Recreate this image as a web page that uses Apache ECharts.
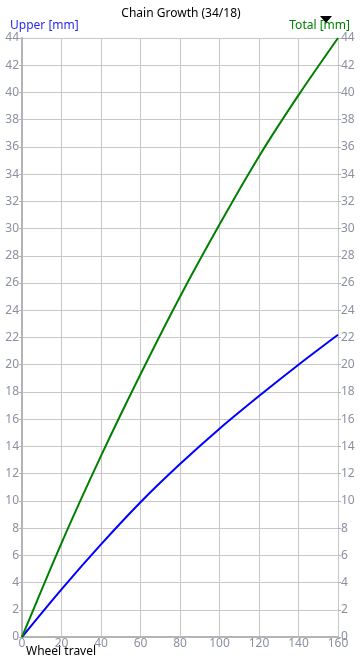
<!DOCTYPE html>
<html>
<head>
<meta charset="utf-8">
<script src="https://cdn.jsdelivr.net/npm/echarts@6/dist/echarts.min.js"></script>
<style>
html,body{margin:0;padding:0;background:#fff;}
#c{width:362px;height:666px;}
</style>
</head>
<body>
<div id="c"></div>
<script>
const wheelTravel = [0, 20, 40, 60, 80, 100, 120, 140, 160];
const upperGrowth = [0, 3.5, 6.8, 9.9, 12.7, 15.3, 17.7, 20.0, 22.2];
const totalGrowth = [0, 6.9, 13.3, 19.3, 25.0, 30.3, 35.3, 39.8, 44.0];
const titleText = 'Chain Growth (34/18)';
const leftAxisName = 'Upper [mm]';
const rightAxisName = 'Total [mm]';
const xAxisName = 'Wheel travel';

const chart = echarts.init(document.getElementById('c'), null, {renderer: 'canvas'});
const font = 'Noto Sans';
const labelColor = '#8a90a2';
const yAxisCommon = {
  type: 'value', min: 0, max: 44, interval: 2,
  axisLine: {show: true, lineStyle: {color: '#b4b4b4', width: 2}},
  axisTick: {show: true, length: 3, lineStyle: {color: '#b4b4b4'}},
  axisLabel: {color: labelColor, fontSize: 12, fontFamily: font, margin: 3},
  splitLine: {show: true, lineStyle: {color: '#c8c8c8', width: 1}}
};
chart.setOption({
  animation: false,
  backgroundColor: '#ffffff',
  title: {
    text: titleText, left: 'center', top: 3,
    textStyle: {fontSize: 12, fontWeight: 'normal', color: '#000', fontFamily: font}
  },
  grid: {left: 22, right: 24, top: 38, bottom: 29, containLabel: false},
  xAxis: {
    type: 'value', min: 0, max: 160, interval: 20,
    axisLine: {show: true, lineStyle: {color: '#b4b4b4', width: 2}},
    axisTick: {show: false},
    axisLabel: {color: labelColor, fontSize: 12, fontFamily: font, margin: 1},
    splitLine: {show: true, lineStyle: {color: '#c8c8c8', width: 1}}
  },
  yAxis: [
    Object.assign({}, yAxisCommon, {position: 'left'}),
    Object.assign({}, yAxisCommon, {position: 'right', splitLine: {show: false},
      axisLine: {show: true, lineStyle: {color: '#c8c8c8', width: 1}}})
  ],
  graphic: [
    {type: 'text', left: 10, top: 20, style: {text: leftAxisName, fill: '#2a2aee', fontSize: 12, fontFamily: font}},
    {type: 'text', right: 12, top: 20, style: {text: rightAxisName, fill: '#008000', fontSize: 12, fontFamily: font}},
    {type: 'text', left: 26, top: 646, style: {text: xAxisName, fill: '#000', fontSize: 12, fontFamily: font}},
    {type: 'polygon', shape: {points: [[320, 16], [332, 16], [326, 23]]}, style: {fill: '#000'}}
  ],
  series: [
    {
      name: 'Upper', type: 'line', yAxisIndex: 0, showSymbol: false, smooth: 0.3,
      data: wheelTravel.map((x, i) => [x, upperGrowth[i]]),
      lineStyle: {color: '#0000ff', width: 2}, itemStyle: {color: '#0000ff'}
    },
    {
      name: 'Total', type: 'line', yAxisIndex: 1, showSymbol: false, smooth: 0.3,
      data: wheelTravel.map((x, i) => [x, totalGrowth[i]]),
      lineStyle: {color: '#008000', width: 2}, itemStyle: {color: '#008000'}
    }
  ]
});
</script>
</body>
</html>
